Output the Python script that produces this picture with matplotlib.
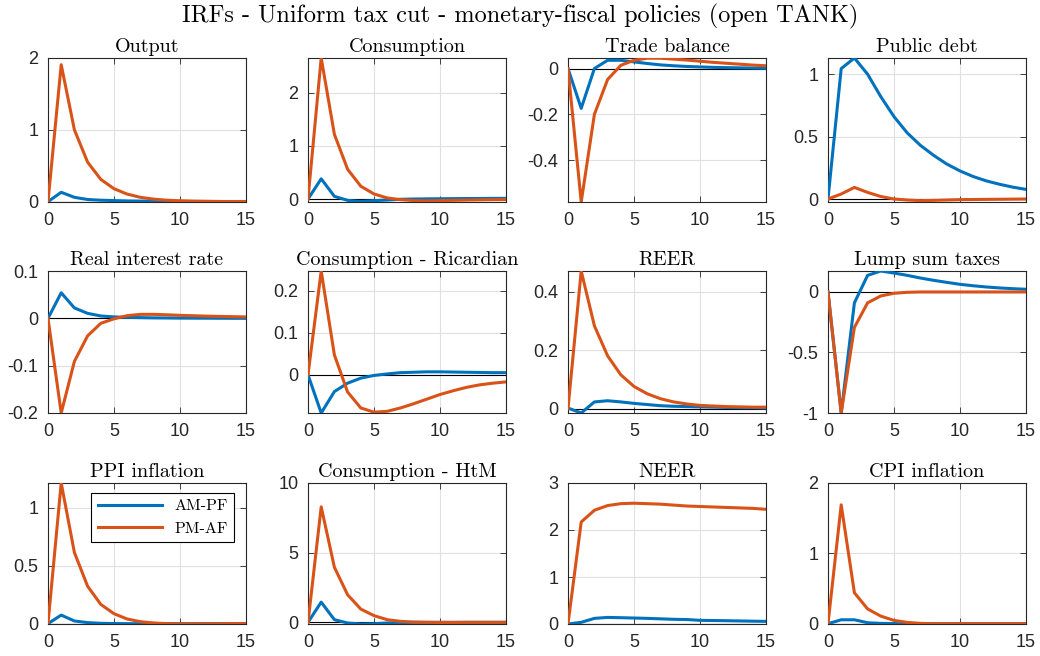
import matplotlib
matplotlib.use("Agg")
import matplotlib.pyplot as plt

plt.rcParams['font.family'] = ['Liberation Sans', 'DejaVu Sans']
plt.rcParams['axes.unicode_minus'] = False

horizon = list(range(16))

titles = ["Output", "Consumption", "Trade balance", "Public debt",
          "Real interest rate", "Consumption - Ricardian", "REER", "Lump sum taxes",
          "PPI inflation", "Consumption - HtM", "NEER", "CPI inflation"]

output_am = [0, 0.13, 0.06, 0.03, 0.02, 0.015, 0.01, 0.008, 0.006, 0.005, 0.004, 0.003, 0.003, 0.002, 0.002, 0.002]
output_pm = [0, 1.907, 1.0, 0.55, 0.31, 0.18, 0.105, 0.06, 0.035, 0.02, 0.012, 0.007, 0.004, 0.002, 0.001, 0.001]
cons_am = [0, 0.38, 0.05, -0.025, -0.045, -0.03, -0.02, -0.005, 0.0, 0.003, 0.005, 0.007, 0.009, 0.01, 0.012, 0.013]
cons_pm = [0, 2.65, 1.215, 0.56, 0.24, 0.095, 0.02, -0.012, -0.03, -0.035, -0.03, -0.025, -0.02, -0.016, -0.012, -0.01]
tb_am = [0, -0.174, 0.0, 0.036, 0.036, 0.029, 0.022, 0.016, 0.012, 0.009, 0.007, 0.005, 0.004, 0.003, 0.002, 0.001]
tb_pm = [0, -0.583, -0.2, -0.048, 0.014, 0.036, 0.045, 0.045, 0.041, 0.037, 0.032, 0.027, 0.023, 0.019, 0.015, 0.012]
debt_am = [0, 1.045, 1.13, 1.0, 0.82, 0.66, 0.53, 0.43, 0.35, 0.28, 0.225, 0.18, 0.145, 0.118, 0.095, 0.077]
debt_pm = [0, 0.04, 0.093, 0.053, 0.02, 0.0, -0.008, -0.013, -0.011, -0.008, -0.005, -0.004, -0.003, -0.002, -0.001, 0.0]
rate_am = [0, 0.054, 0.022, 0.0105, 0.005, 0.003, 0.002, 0.0015, 0.001, 0.0008, 0.0005, 0.0004, 0.0003, 0.0002, 0.0001, 0.0]
rate_pm = [0, -0.2, -0.091, -0.037, -0.0105, -0.001, 0.0056, 0.0084, 0.0084, 0.0075, 0.0063, 0.0055, 0.0047, 0.004, 0.0035, 0.003]
ric_am = [0, -0.091, -0.04, -0.02, -0.008, -0.0016, 0.002, 0.005, 0.006, 0.007, 0.007, 0.0065, 0.006, 0.0055, 0.005, 0.005]
ric_pm = [0, 0.247, 0.047, -0.041, -0.079, -0.089, -0.087, -0.079, -0.069, -0.058, -0.047, -0.038, -0.03, -0.024, -0.02, -0.017]
reer_am = [0.002, -0.015, 0.023, 0.027, 0.023, 0.018, 0.014, 0.01, 0.008, 0.007, 0.006, 0.005, 0.004, 0.003, 0.003, 0.002]
reer_pm = [0, 0.472, 0.284, 0.181, 0.116, 0.076, 0.051, 0.034, 0.023, 0.016, 0.011, 0.009, 0.007, 0.006, 0.005, 0.005]
tax_am = [0, -1.0, -0.09, 0.137, 0.173, 0.156, 0.137, 0.115, 0.096, 0.079, 0.063, 0.051, 0.041, 0.033, 0.027, 0.022]
tax_pm = [0, -1.0, -0.293, -0.09, -0.033, -0.011, -0.003, 0.0, 0.0, 0.0, 0.0, 0.0, 0.0, 0.0, 0.0, 0.0]
ppi_am = [0, 0.074, 0.023, 0.009, 0.003, 0.001, 0.0, 0.0, 0.0, 0.0, 0.0, 0.0, 0.0, 0.0, 0.0, 0.0]
ppi_pm = [0, 1.214, 0.614, 0.323, 0.166, 0.086, 0.04, 0.017, 0.006, 0.0, -0.002, -0.002, -0.001, -0.001, 0.0, 0.0]
htm_am = [0, 1.45, 0.19, -0.05, -0.12, -0.1, -0.05, -0.02, 0.0, 0.0, 0.0, 0.0, 0.0, 0.0, 0.0, 0.0]
htm_pm = [0, 8.29, 3.95, 1.98, 0.95, 0.48, 0.19, 0.07, 0.02, 0.0, -0.01, -0.01, 0.0, 0.0, 0.0, 0.0]
neer_am = [0, 0.035, 0.12, 0.14, 0.134, 0.127, 0.12, 0.11, 0.1, 0.095, 0.078, 0.074, 0.07, 0.065, 0.06, 0.056]
neer_pm = [0, 2.17, 2.42, 2.52, 2.56, 2.57, 2.56, 2.55, 2.53, 2.51, 2.5, 2.49, 2.48, 2.47, 2.46, 2.44]
cpi_am = [0, 0.056, 0.056, 0.014, 0.005, 0.002, 0.0, 0.0, 0.0, 0.0, 0.0, 0.0, 0.0, 0.0, 0.0, 0.0]
cpi_pm = [0, 1.69, 0.44, 0.21, 0.108, 0.047, 0.019, 0.005, 0.0, 0.0, 0.0, 0.0, 0.0, 0.0, 0.0, 0.0]

am_series = [output_am, cons_am, tb_am, debt_am, rate_am, ric_am, reer_am, tax_am,
             ppi_am, htm_am, neer_am, cpi_am]
pm_series = [output_pm, cons_pm, tb_pm, debt_pm, rate_pm, ric_pm, reer_pm, tax_pm,
             ppi_pm, htm_pm, neer_pm, cpi_pm]

ylims = [(-0.005, 2.0), (-0.056, 2.65), (-0.583, 0.046), (-0.024, 1.13),
         (-0.2, 0.1), (-0.091, 0.247), (-0.015, 0.472), (-1.0, 0.173),
         (-0.003, 1.214), (-0.12, 10.0), (0, 3.0), (-0.004, 2.0)]
yticks = [[0, 1, 2], [0, 1, 2], [-0.4, -0.2, 0], [0, 0.5, 1],
          [-0.2, -0.1, 0, 0.1], [0, 0.1, 0.2], [0, 0.2, 0.4], [-1, -0.5, 0],
          [0, 0.5, 1], [0, 5, 10], [0, 1, 2, 3], [0, 1, 2]]

blue = '#0072BD'
orange = '#D95319'
W, H = 1040.0, 656.0
lefts = [48, 308, 568, 828]
tops = [58, 271, 483]
bottoms = [202, 413, 624]

fig = plt.figure(figsize=(10.4, 6.56), dpi=100)
fig.text(0.5, 1 - 16 / H, "IRFs - Uniform tax cut - monetary-fiscal policies (open TANK)",
         family='cmr10', fontsize=17.5, ha='center', va='center')

for k in range(12):
	r, c = k // 4, k % 4
	ax = fig.add_axes([lefts[c] / W, 1 - bottoms[r] / H, 198 / W, (bottoms[r] - tops[r]) / H])
	ax.axhline(0, color='black', lw=0.8, zorder=1)
	l1, = ax.plot(horizon, am_series[k], color=blue, lw=2.2, zorder=3)
	l2, = ax.plot(horizon, pm_series[k], color=orange, lw=2.2, zorder=3)
	ax.set_xlim(0, 15)
	ax.set_ylim(ylims[k])
	ax.set_xticks([0, 5, 10, 15])
	ax.set_yticks(yticks[k])
	ax.set_yticklabels(['%g' % v for v in yticks[k]])
	ax.grid(True, color='#e0e0e0', lw=0.8)
	ax.set_axisbelow(True)
	ax.tick_params(direction='in', top=True, right=True, labelsize=13, colors='#262626',
	               length=4, width=0.6)
	ax.tick_params(axis='x', pad=7)
	ax.tick_params(axis='y', pad=7)
	for s in ax.spines.values():
		s.set_color('#262626')
		s.set_linewidth(0.8)
	ax.set_title(titles[k], family='cmr10', fontsize=14.5, pad=4)
	if k == 8:
		leg = ax.legend([l1, l2], ["AM-PF", "PM-AF"], loc='upper right',
		                bbox_to_anchor=(0.94, 0.93), borderaxespad=0,
		                prop={'family': 'cmr10', 'size': 11.5}, handlelength=4.0,
		                fancybox=False, edgecolor='black', framealpha=1)
		leg.get_frame().set_linewidth(0.8)

fig.savefig("out.png", dpi=100)
